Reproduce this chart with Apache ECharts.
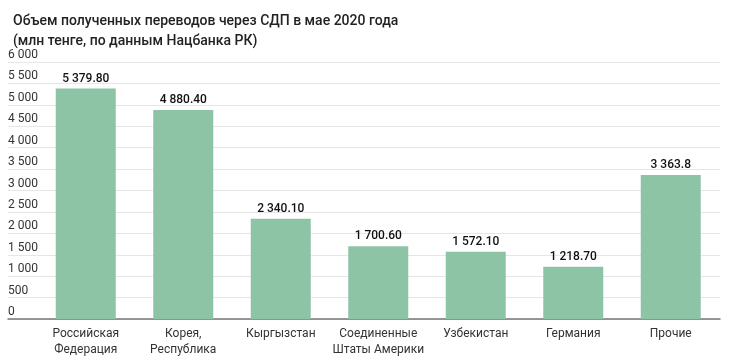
<!DOCTYPE html>
<html><head><meta charset="utf-8">
<script src="https://cdn.jsdelivr.net/npm/echarts@6/dist/echarts.min.js"></script>
<style>html,body{margin:0;padding:0;background:#fff}#c{width:730px;height:360px}</style>
</head><body><div id="c"></div>
<script>
var categories = ['Российская\nФедерация', 'Корея,\nРеспублика', 'Кыргызстан', 'Соединенные\nШтаты Америки', 'Узбекистан', 'Германия', 'Прочие'];
var values = [5379.80, 4880.40, 2340.10, 1700.60, 1572.10, 1218.70, 3363.8];
var valueLabels = ['5 379.80', '4 880.40', '2 340.10', '1 700.60', '1 572.10', '1 218.70', '3 363.8'];
var yMin = 0, yMax = 6000, yStep = 500;

function fmt(v){ return String(v).replace(/\B(?=(\d{3})+(?!\d))/g, ' '); }

var chart = echarts.init(document.getElementById('c'));
chart.setOption({
  animation: false,
  backgroundColor: '#fff',
  textStyle: { fontFamily: 'Roboto' },
  title: {
    text: 'Объем полученных переводов через СДП в мае 2020 года\n(млн тенге, по данным Нацбанка РК)',
    left: 8, top: 6,
    textStyle: { fontFamily: 'Roboto', fontSize: 14, fontWeight: 500, color: '#222', lineHeight: 20 }
  },
  grid: [
    { left: 37, right: 10.5, top: 62, bottom: 41 },
    { left: 8, right: 10, top: 62, bottom: 41 }
  ],
  xAxis: [
    { type: 'category', gridIndex: 0, data: categories,
      axisLine: { show: false }, axisTick: { show: false },
      axisLabel: { margin: 7, color: '#333', fontSize: 12, lineHeight: 16, fontFamily: 'Roboto', interval: 0 } },
    { type: 'category', gridIndex: 1, data: categories,
      axisLine: { show: true, lineStyle: { color: '#777', width: 1.5 } }, axisTick: { show: false },
      axisLabel: { show: false } }
  ],
  yAxis: [
    { type: 'value', gridIndex: 0, min: yMin, max: yMax, interval: yStep,
      axisLine: { show: false }, axisTick: { show: false }, axisLabel: { show: false }, splitLine: { show: false } },
    { type: 'value', gridIndex: 1, min: yMin, max: yMax, interval: yStep,
      axisLine: { show: false }, axisTick: { show: false },
      splitLine: { show: true, lineStyle: { color: '#e6e6e6', width: 1 } },
      axisLabel: { inside: true, margin: 0, verticalAlign: 'bottom', lineHeight: 12, padding: [0, 0, 1, 0],
        color: '#333', fontSize: 12, fontFamily: 'Roboto', formatter: fmt } }
  ],
  series: [{
    type: 'bar', xAxisIndex: 0, yAxisIndex: 0, data: values, barWidth: 60,
    itemStyle: { color: '#8dc4a6' },
    label: { show: true, position: 'top', distance: 4, color: '#111', fontSize: 12, fontWeight: 500, fontFamily: 'Roboto',
      formatter: function(p){ return valueLabels[p.dataIndex]; } }
  }]
});
</script></body></html>
